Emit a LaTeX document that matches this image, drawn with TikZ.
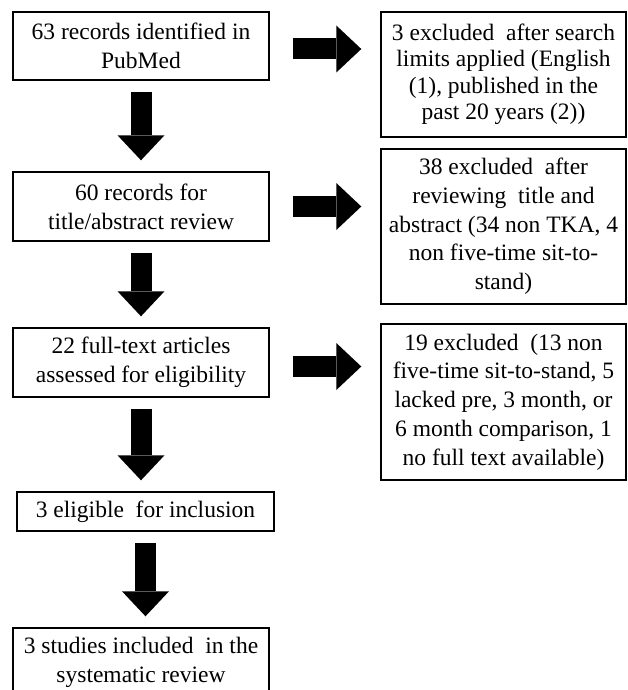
\documentclass[tikz,border=0pt]{standalone}
\usepackage{fontspec}
\setmainfont{Liberation Serif}
\usepackage{tikz}
\usetikzlibrary{arrows.meta,calc}

\begin{document}
\begin{tikzpicture}[x=1pt,y=-1pt,
    every node/.style={draw,rectangle,line width=1.4pt,align=center,inner sep=0pt,
        font=\fontsize{23.5pt}{28.7pt}\selectfont},
    box/.style={minimum width=256pt,minimum height=69pt},
    exbox/.style={minimum width=245pt},
    bigarrow/.style={line width=21pt,-{Triangle[width=47pt,length=25pt,line width=0pt]}},
    down/.style={bigarrow,shorten <=11pt,shorten >=11pt},
    across/.style={bigarrow,shorten <=23pt,shorten >=19pt}]
        \clip (0,0) rectangle (627,690);
        \useasboundingbox (0,0) rectangle (627,690);
        \node[box,minimum height=68pt] (rec) at (141,46) {63 records identified in \\ PubMed};
        \node[box] (screen) at (141,206.5) {60 records for \\ title/abstract review};
        \node[box] (full) at (141,362.5) {22 full-text articles \\ assessed for eligibility};
        \node[box,minimum width=257pt,minimum height=39pt] (elig) at (145.5,511.5) {3 eligible\ \ for inclusion};
        \node[box] (incl) at (141,662.5) {3 studies included\ \ in the \\ systematic review};
        \node[exbox,minimum height=125pt,font=\fontsize{23.5pt}{26.5pt}\selectfont] (ex1) at (503.5,74.5)
            {3 excluded\ \ after search \\ limits applied (English \\ (1), published in the \\ past 20 years (2))};
        \node[exbox,minimum height=155pt] (ex2) at (503.5,226.5)
            {38 excluded\ \ after \\ reviewing\ \ title and \\ abstract (34 non TKA, 4 \\ non five-time sit-to- \\ stand)};
        \node[exbox,minimum height=156pt] (ex3) at (503.5,402)
            {19 excluded\ \ (13 non \\ five-time sit-to-stand, 5 \\ lacked pre, 3 month, or \\ 6 month comparison, 1 \\ no full text available)};
        \draw[down] (rec.south) -- (screen.north);
        \draw[down] (screen.south) -- (full.north);
        \draw[down] (full.south) -- (full.south |- elig.north);
        \draw[down] (elig.south) -- (elig.south |- incl.north);
        \draw[across] ($(rec.east)+(0,3)$) -- ($(rec.east -| ex1.west)+(0,3)$);
        \draw[across] (screen.east) -- (screen.east -| ex2.west);
        \draw[across] ($(full.east)+(0,4)$) -- ($(full.east -| ex3.west)+(0,4)$);
    \end{tikzpicture}
\end{document}
